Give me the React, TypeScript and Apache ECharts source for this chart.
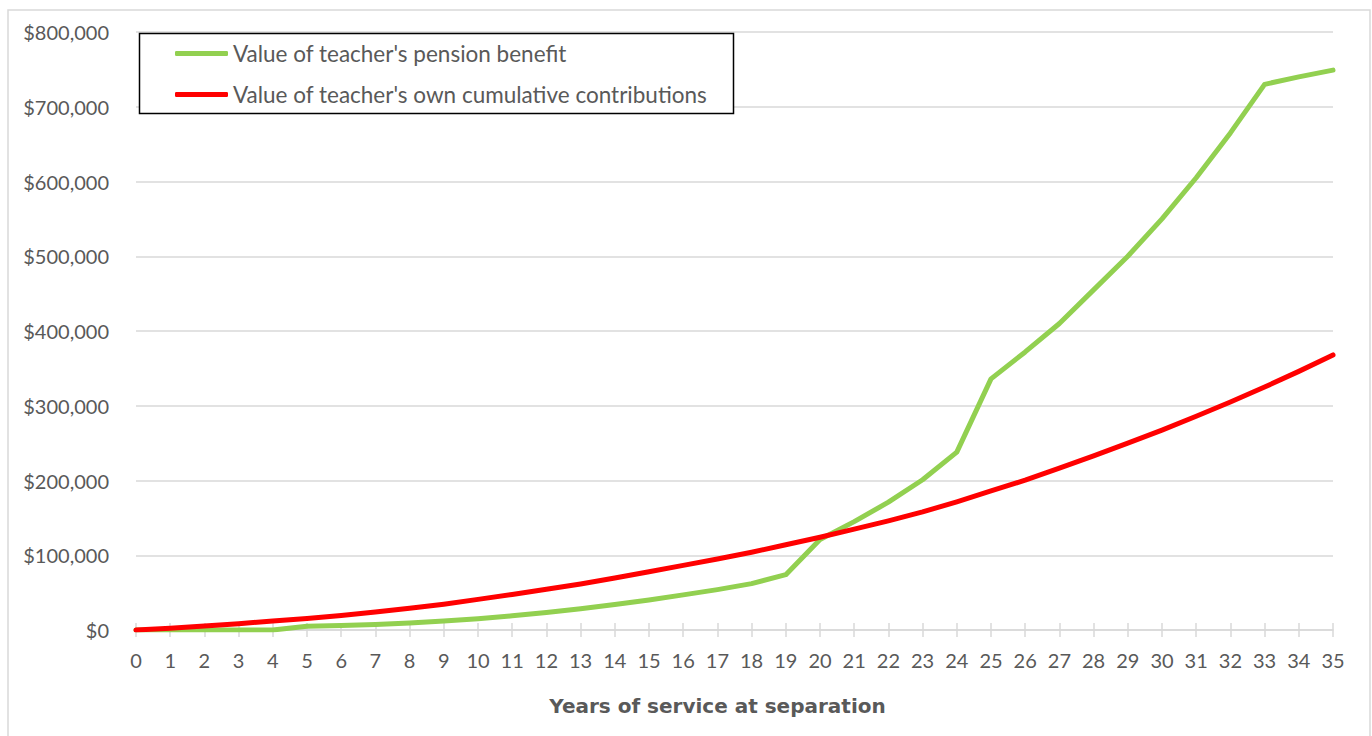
import React, { useEffect, useRef } from "react";
import * as echarts from "echarts";

const years: string[] = Array.from({ length: 36 }, (_, i) => String(i));

const pensionBenefit: number[] = [
  0, 0, 0, 0, 0, 5000, 6000, 7500, 9500, 12000,
  15000, 19000, 23500, 28500, 34000, 40000, 47000, 54000, 62000, 74000,
  121000, 145000, 171000, 201000, 238000, 336000, 372000, 410000, 455000, 500000,
  550000, 605000, 665000, 730000, 740000, 749000,
];

const ownContributions: number[] = [
  0, 2500, 5500, 8500, 12000, 15500, 19500, 24000, 29000, 34500,
  41000, 47500, 54500, 61500, 69500, 78000, 86500, 95000, 104000, 114000,
  124000, 135000, 146000, 158000, 171500, 186000, 200500, 216500, 233000, 250000,
  267500, 286000, 305000, 325000, 346000, 368000,
];

const seriesNames: string[] = [
  "Value of teacher's pension benefit",
  "Value of teacher's own cumulative contributions",
];

const xAxisTitle = "Years of service at separation";

export default function App() {
  const ref = useRef<HTMLDivElement>(null);

  useEffect(() => {
    if (!ref.current) return;
    const chart = echarts.init(ref.current, null, { renderer: "svg" });
    const labelColor = "#595959";
    const gridColor = "#d9d9d9";
    chart.setOption({
      animation: false,
      backgroundColor: "#ffffff",
      grid: { left: 136, top: 32, right: 39, bottom: 106, containLabel: false },
      graphic: [
        {
          type: "rect",
          silent: true,
          z: 0,
          shape: { x: 8, y: 10, width: 1362, height: 740 },
          style: { fill: "none", stroke: gridColor, lineWidth: 1.5 },
        },
        {
          type: "rect",
          silent: true,
          z: 3,
          shape: { x: 139.5, y: 33.5, width: 594, height: 80 },
          style: { fill: "#ffffff", stroke: "#000000", lineWidth: 1.5 },
        },
      ],
      legend: {
        orient: "vertical",
        left: 175,
        top: 42,
        padding: 0,
        itemGap: 18,
        itemWidth: 53,
        itemHeight: 5,
        icon: "roundRect",
        z: 5,
        textStyle: { fontFamily: "Lato", fontSize: 22.5, color: labelColor },
        data: seriesNames,
      },
      xAxis: [
        {
          type: "category",
          data: years,
          boundaryGap: false,
          position: "bottom",
          axisLine: { show: true, lineStyle: { color: gridColor, width: 1.5 } },
          axisTick: { show: true, inside: false, length: 7, interval: 0, lineStyle: { color: gridColor, width: 1.5 } },
          axisLabel: { interval: 0, margin: 20, fontFamily: "Lato", fontSize: 20, color: labelColor },
          splitLine: { show: false },
          name: xAxisTitle,
          nameLocation: "middle",
          nameGap: 66,
          nameTextStyle: {
            fontFamily: "DejaVu Sans",
            fontWeight: "bold",
            fontSize: 20,
            color: labelColor,
            padding: [0, 34, 0, 0],
          },
        },
        {
          type: "category",
          data: years,
          boundaryGap: false,
          position: "bottom",
          axisLine: { show: false },
          axisTick: { show: true, inside: true, length: 7, interval: 0, lineStyle: { color: gridColor, width: 1.5 } },
          axisLabel: { show: false },
          splitLine: { show: false },
        },
      ],
      yAxis: {
        type: "value",
        min: 0,
        max: 800000,
        interval: 100000,
        axisLine: { show: false },
        axisTick: { show: false },
        axisLabel: {
          margin: 27,
          fontFamily: "Lato",
          fontSize: 20,
          color: labelColor,
          formatter: (v: number) => "$" + v.toLocaleString("en-US"),
        },
        splitLine: { show: true, lineStyle: { color: gridColor, width: 1.5 } },
      },
      series: [
        {
          name: seriesNames[0],
          type: "line",
          xAxisIndex: 0,
          data: pensionBenefit,
          symbol: "none",
          z: 2,
          lineStyle: { color: "#92D050", width: 5, cap: "round", join: "round" },
          itemStyle: { color: "#92D050" },
        },
        {
          name: seriesNames[1],
          type: "line",
          xAxisIndex: 0,
          data: ownContributions,
          symbol: "none",
          z: 2,
          lineStyle: { color: "#FF0000", width: 5, cap: "round", join: "round" },
          itemStyle: { color: "#FF0000" },
        },
      ],
    });
    return () => chart.dispose();
  }, []);

  return (
    <div
      ref={ref}
      style={{ position: "absolute", left: 0, top: 0, width: 1372, height: 736 }}
    />
  );
}
